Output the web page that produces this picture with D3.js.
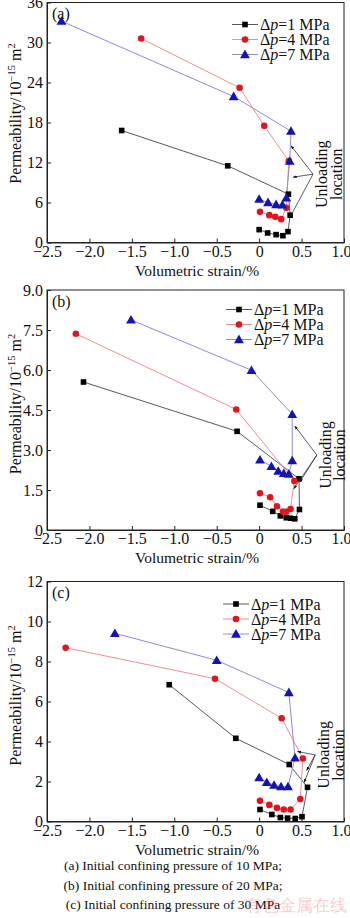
<!DOCTYPE html>
<html><head><meta charset="utf-8">
<script src="https://cdn.jsdelivr.net/npm/d3@7"></script>
<style>
html,body{margin:0;padding:0;background:#fff;}
svg{display:block;}
text{font-family:"Liberation Serif","Times New Roman",serif;fill:#111;}
</style></head>
<body>
<svg id="chart" width="350" height="918"></svg>
<script>
// ---------- DATA ----------
const seriesNames = ["1", "4", "7"];           // Δp values (MPa)
const xTicks = [-2.5, -2.0, -1.5, -1.0, -0.5, 0, 0.5, 1.0];
const yTicksA = [0, 6, 12, 18, 24, 30, 36];
const yTicksB = [0, 1.5, 3.0, 4.5, 6.0, 7.5, 9.0];
const yTicksC = [0, 2, 4, 6, 8, 10, 12];

// (a) initial confining pressure 10 MPa
const strainA1 = [0.00, 0.10, 0.20, 0.28, 0.34, 0.365, 0.345, -0.37, -1.62];
const permA1   = [1.93, 1.43, 1.18, 1.02, 1.63, 4.1, 7.25, 11.5, 16.8];
const strainA4 = [0.01, 0.12, 0.19, 0.26, 0.32, 0.35, 0.06, -0.23, -1.39];
const permA4   = [4.6, 4.1, 3.85, 3.5, 5.2, 12.2, 17.5, 23.2, 30.6];
const strainA7 = [0.00, 0.105, 0.20, 0.275, 0.32, 0.36, 0.375, -0.30, -2.33];
const permA7   = [6.5, 6.0, 5.7, 5.65, 6.7, 12.2, 16.7, 21.9, 33.2];

// (b) initial confining pressure 20 MPa
const strainB1 = [0.01, 0.16, 0.25, 0.32, 0.37, 0.42, 0.475, 0.47, -0.26, -2.07];
const permB1   = [0.93, 0.70, 0.53, 0.46, 0.44, 0.42, 0.77, 1.92, 3.70, 5.55];
const strainB4 = [0.01, 0.13, 0.21, 0.28, 0.32, 0.37, 0.415, -0.27, -2.16];
const permB4   = [1.38, 1.23, 0.89, 0.69, 0.68, 0.79, 1.84, 4.52, 7.36];
const strainB7 = [0.01, 0.145, 0.225, 0.29, 0.35, 0.39, 0.39, -0.09, -1.51];
const permB7   = [2.63, 2.39, 2.21, 2.12, 2.10, 2.6, 4.34, 5.99, 7.88];

// (c) initial confining pressure 30 MPa
const strainC1 = [0.01, 0.15, 0.25, 0.335, 0.425, 0.505, 0.57, 0.355, -0.275, -1.06];
const permC1   = [0.60, 0.35, 0.20, 0.17, 0.15, 0.24, 1.71, 2.85, 4.16, 6.84];
const strainC4 = [0.01, 0.12, 0.21, 0.29, 0.37, 0.485, 0.515, 0.265, -0.52, -2.28];
const permC4   = [1.04, 0.83, 0.68, 0.60, 0.60, 1.12, 3.15, 5.16, 7.14, 8.69];
const strainC7 = [0.00, 0.09, 0.176, 0.258, 0.34, 0.423, 0.35, -0.50, -1.70];
const permC7   = [2.19, 1.96, 1.82, 1.74, 1.74, 3.18, 6.45, 8.06, 9.41];

// "Unloading location" annotation (data units): origin, then arrow targets
const unloadA = [[0.635, 10.25], [0.376, 14.5], [0.40, 9.8], [0.364, 3.8]];
const unloadB = [[0.68, 2.81], [0.42, 3.9], [0.48, 1.8], [0.41, 1.55]];
const unloadC = [[0.66, 3.33], [0.45, 3.5], [0.56, 2.55], [0.53, 1.95]];

const panelLabels = ["(a)", "(b)", "(c)"];
const captions = [
  "(a) Initial confining pressure of 10 MPa;",
  "(b)  Initial confining pressure of 20 MPa;",
  "(c) Initial confining pressure of 30 MPa"
];

// ---------- LAYOUT / STYLE ----------
const plotLeft = 47, plotRight = 344, plotH = 240;
const panelTops = [2.5, 290, 581.5];
const markerColors = ["#000000", "#e3141e", "#1414b4"];
const lineColors = ["#5a5a5a", "#ee8f8f", "#8c8cd2"];
const legendX = [232, 226, 223];
const legendY0 = [22, 19.5, 22.5];
const serif = "'Liberation Serif','Times New Roman',serif";

const panels = [
  {yMax: 36, yTicks: yTicksA, fmt: d => d3.format("d")(d),
   series: [[strainA1, permA1], [strainA4, permA4], [strainA7, permA7]], unload: unloadA,
   titleOffset: -9},
  {yMax: 9, yTicks: yTicksB, fmt: d => d === 0 ? "0" : d3.format(".1f")(d),
   series: [[strainB1, permB1], [strainB4, permB4], [strainB7, permB7]], unload: unloadB,
   titleOffset: -6},
  {yMax: 12, yTicks: yTicksC, fmt: d => d3.format("d")(d),
   series: [[strainC1, permC1], [strainC4, permC4], [strainC7, permC7]], unload: unloadC,
   titleOffset: -6}
];

const svg = d3.select("#chart");
const defs = svg.append("defs");
defs.append("marker").attr("id", "arr").attr("viewBox", "0 0 10 10")
  .attr("refX", 9).attr("refY", 5).attr("markerWidth", 5).attr("markerHeight", 5)
  .attr("orient", "auto")
  .append("path").attr("d", "M0,1.5 L10,5 L0,8.5 Z").attr("fill", "#111");

const x = d3.scaleLinear().domain([-2.5, 1.0]).range([plotLeft, plotRight]);
const xFmt = d => d === 0 ? "0" : d3.format(".1f")(d);

function drawMarker(g, k, px, py) {
  if (k === 0) {
    g.append("rect").attr("x", px - 2.8).attr("y", py - 2.8).attr("width", 5.6).attr("height", 5.6)
      .attr("fill", markerColors[0]);
  } else if (k === 1) {
    g.append("circle").attr("cx", px).attr("cy", py).attr("r", 3.3).attr("fill", markerColors[1]);
  } else {
    g.append("path").attr("transform", `translate(${px},${py + 0.8})`)
      .attr("d", d3.symbol(d3.symbolTriangle, 42)()).attr("fill", markerColors[2]);
  }
}

panels.forEach((p, i) => {
  const top = panelTops[i], bottom = top + plotH;
  const y = d3.scaleLinear().domain([0, p.yMax]).range([bottom, top]);
  const g = svg.append("g");

  // frame
  g.append("rect").attr("x", plotLeft).attr("y", top).attr("width", plotRight - plotLeft)
    .attr("height", plotH).attr("fill", "none").attr("stroke", "#222").attr("stroke-width", 1);

  // axes
  const xa = g.append("g").attr("transform", `translate(0,${bottom})`)
    .call(d3.axisBottom(x).tickValues(xTicks).tickFormat(xFmt).tickSizeInner(-4).tickSizeOuter(0).tickPadding(3));
  const ya = g.append("g").attr("transform", `translate(${plotLeft},0)`)
    .call(d3.axisLeft(y).tickValues(p.yTicks).tickFormat(p.fmt).tickSizeInner(-4).tickSizeOuter(0).tickPadding(4));
  [xa, ya].forEach(a => {
    a.attr("font-family", serif).attr("font-size", 16);
    a.selectAll("path.domain").attr("stroke", "#222");
    a.selectAll(".tick line").attr("stroke", "#222");
    a.selectAll("text").attr("font-size", 16).attr("font-family", serif).attr("fill", "#111");
  });
  xa.selectAll(".tick text").filter(d => d === 1.0).attr("dx", -3);

  // axis titles
  g.append("text").attr("x", 197).attr("y", bottom + 33).attr("text-anchor", "middle")
    .attr("font-size", 15.5).text("Volumetric strain/%");
  const yt = g.append("text")
    .attr("transform", `translate(21,${(top + bottom) / 2 + p.titleOffset}) rotate(-90)`)
    .attr("text-anchor", "middle").attr("font-size", 16);
  yt.append("tspan").text("Permeability/10");
  yt.append("tspan").attr("dy", -6).attr("font-size", 10.5).text("−15");
  yt.append("tspan").attr("dy", 6).text(" m");
  yt.append("tspan").attr("dy", -6).attr("font-size", 10.5).text("2");

  // panel label
  g.append("text").attr("x", 52).attr("y", top + 16.5).attr("font-size", 16).text(panelLabels[i]);

  // series lines + markers
  p.series.forEach((s, k) => {
    const pts = s[0].map((v, j) => [x(v), y(s[1][j])]);
    g.append("path").attr("d", d3.line()(pts)).attr("fill", "none")
      .attr("stroke", lineColors[k]).attr("stroke-width", 1);
  });
  p.series.forEach((s, k) => {
    s[0].forEach((v, j) => drawMarker(g, k, x(v), y(s[1][j])));
  });

  // unloading annotation
  const o = p.unload[0];
  p.unload.slice(1).forEach(t => {
    g.append("line").attr("x1", x(o[0])).attr("y1", y(o[1])).attr("x2", x(t[0])).attr("y2", y(t[1]))
      .attr("stroke", "#333").attr("stroke-width", 0.8).attr("marker-end", "url(#arr)");
  });
  const ucy = y(o[1]);
  g.append("text").attr("transform", `translate(${x(o[0]) + 8.5},${ucy}) rotate(-90)`)
    .attr("text-anchor", "middle").attr("dominant-baseline", "central").attr("font-size", 16).text("Unloading");
  g.append("text").attr("transform", `translate(${x(o[0]) + 23},${ucy}) rotate(-90)`)
    .attr("text-anchor", "middle").attr("dominant-baseline", "central").attr("font-size", 16).text("location");

  // legend
  seriesNames.forEach((n, k) => {
    const ly = top + legendY0[i] + k * 15;
    const lx = legendX[i];
    g.append("line").attr("x1", lx).attr("x2", lx + 26).attr("y1", ly).attr("y2", ly)
      .attr("stroke", lineColors[k]).attr("stroke-width", 1);
    drawMarker(g, k, lx + 13, ly);
    const t = g.append("text").attr("x", lx + 28).attr("y", ly + 5.5).attr("font-size", 16);
    t.append("tspan").text("Δ");
    t.append("tspan").attr("font-style", "italic").text("p");
    t.append("tspan").text("=" + n + " MPa");
  });
});

// captions
captions.forEach((c, i) => {
  svg.append("text").attr("x", 173).attr("y", 870 + i * 19.5).attr("text-anchor", "middle")
    .attr("font-size", 13.5).text(c);
});
// watermark
svg.append("text").attr("x", 347).attr("y", 911).attr("text-anchor", "end")
  .attr("font-family", "'Noto Sans CJK SC',sans-serif").attr("font-size", 17)
  .style("fill", "rgba(235,70,70,0.28)").text("有色金属在线");
</script>
</body></html>
